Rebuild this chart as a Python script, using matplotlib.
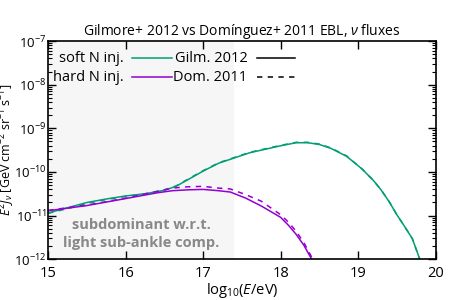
import matplotlib
matplotlib.use('Agg')
import matplotlib.pyplot as plt
import numpy as np
from matplotlib.ticker import FixedLocator, LogLocator, NullFormatter, FuncFormatter

plt.rcParams['font.family'] = ['Open Sans', 'DejaVu Sans']
plt.rcParams['mathtext.fontset'] = 'custom'
plt.rcParams['mathtext.rm'] = 'Open Sans'
plt.rcParams['mathtext.it'] = 'Open Sans:italic'
plt.rcParams['mathtext.bf'] = 'Open Sans:bold'

# log10(E/eV) and log10(E^2 J)
soft_x = [15.0, 15.25, 15.5, 15.75, 16.0, 16.25, 16.5, 16.65, 16.8, 17.0, 17.2, 17.4, 17.6, 17.8,
          18.0, 18.2, 18.35, 18.5, 18.65, 18.85, 19.05, 19.2, 19.3, 19.4, 19.5, 19.6, 19.7, 19.8]
soft_gilm = [-10.94, -10.82, -10.70, -10.62, -10.55, -10.50, -10.42, -10.33, -10.18, -9.98, -9.80, -9.68, -9.56, -9.48,
             -9.40, -9.33, -9.33, -9.37, -9.46, -9.64, -9.93, -10.20, -10.42, -10.68, -10.98, -11.25, -11.53, -12.02]
soft_dom = [-10.95, -10.84, -10.72, -10.63, -10.56, -10.50, -10.41, -10.32, -10.17, -9.97, -9.79, -9.67, -9.55, -9.47,
            -9.39, -9.32, -9.32, -9.36, -9.45, -9.63, -9.93, -10.20, -10.42, -10.68, -10.98, -11.25, -11.53, -12.02]

hard_x = [15.0, 15.5, 16.0, 16.4, 16.6, 16.8, 17.0, 17.2, 17.35, 17.55, 17.75, 18.0, 18.1, 18.2, 18.3, 18.4]
hard_gilm = [-10.89, -10.77, -10.61, -10.48, -10.43, -10.41, -10.40, -10.43, -10.46, -10.60, -10.78, -11.04,
             -11.22, -11.43, -11.68, -12.0]
hard_dom = [-10.88, -10.76, -10.60, -10.45, -10.37, -10.34, -10.33, -10.37, -10.39, -10.52, -10.67, -10.98,
            -11.15, -11.36, -11.62, -11.95]

green = '#009e73'
purple = '#9400d3'
dash = (0, (3.5, 3.5))

fig = plt.figure(figsize=(4.5, 3), dpi=100)
ax = fig.add_axes([0.107, 0.136, 0.861, 0.727])

ax.axvspan(15, 17.4, color='#f6f6f6', lw=0, zorder=0)
ax.text(16.2, 10**-11.42, 'subdominant w.r.t.\nlight sub-ankle comp.', ha='center', va='center',
        color='#888888', fontweight='bold', fontsize=10.5, linespacing=1.3)

ax.plot(soft_x, 10**np.array(soft_gilm), color=green, lw=1.1)
ax.plot(soft_x, 10**np.array(soft_dom), color=green, lw=1.1, ls=dash)
ax.plot(hard_x, 10**np.array(hard_gilm), color=purple, lw=1.1)
ax.plot(hard_x, 10**np.array(hard_dom), color=purple, lw=1.1, ls=dash)

ax.set_yscale('log')
ax.set_xlim(15, 20)
ax.set_ylim(1e-12, 1e-7)
ax.xaxis.set_major_locator(FixedLocator([15, 16, 17, 18, 19, 20]))
ax.yaxis.set_major_locator(LogLocator(base=10, numticks=10))
ax.yaxis.set_minor_locator(LogLocator(base=10, subs=np.arange(2, 10), numticks=10))
ax.yaxis.set_minor_formatter(NullFormatter())
ax.yaxis.set_major_formatter(FuncFormatter(lambda v, p: '10$^{%d}$' % round(np.log10(v))))
ax.tick_params(which='both', direction='in', top=True, right=True)
ax.tick_params(axis='x', labelsize=10.5, pad=5)
ax.tick_params(axis='y', labelsize=9.5, pad=1)
ax.tick_params(which='major', length=6, width=1)
ax.tick_params(which='minor', length=3, width=0.8)
for s in ax.spines.values():
    s.set_linewidth(1.2)

ax.set_xlabel('log$_{10}$($E$/eV)', fontsize=10.5, labelpad=0)
ax.set_ylabel('$E^2J_\\nu$ [GeV cm$^{-2}$ sr$^{-1}$ s$^{-1}$]', fontsize=9)
ax.yaxis.set_label_coords(-0.081, 0.5)
ax.set_title('Gilmore+ 2012 vs Domínguez+ 2011 EBL, $\\nu$ fluxes', fontsize=10, pad=3)

# gnuplot style key: label right-aligned, sample after it
key = [('soft N inj.', green, '-', 0, 0), ('hard N inj.', purple, '-', 0, 1),
       ('Gilm. 2012', 'black', '-', 1, 0), ('Dom. 2011', 'black', dash, 1, 1)]
col_text = [0.195, 0.514]
col_line = [(0.216, 0.320), (0.539, 0.638)]
row_y = [0.921, 0.834]
for lab, c, ls, ci, ri in key:
    ax.text(col_text[ci], row_y[ri], lab, transform=ax.transAxes, ha='right', va='center', fontsize=10.5)
    ax.plot(col_line[ci], [row_y[ri]] * 2, transform=ax.transAxes, color=c, lw=1.1, ls=ls)

fig.savefig('out.png', dpi=100)
